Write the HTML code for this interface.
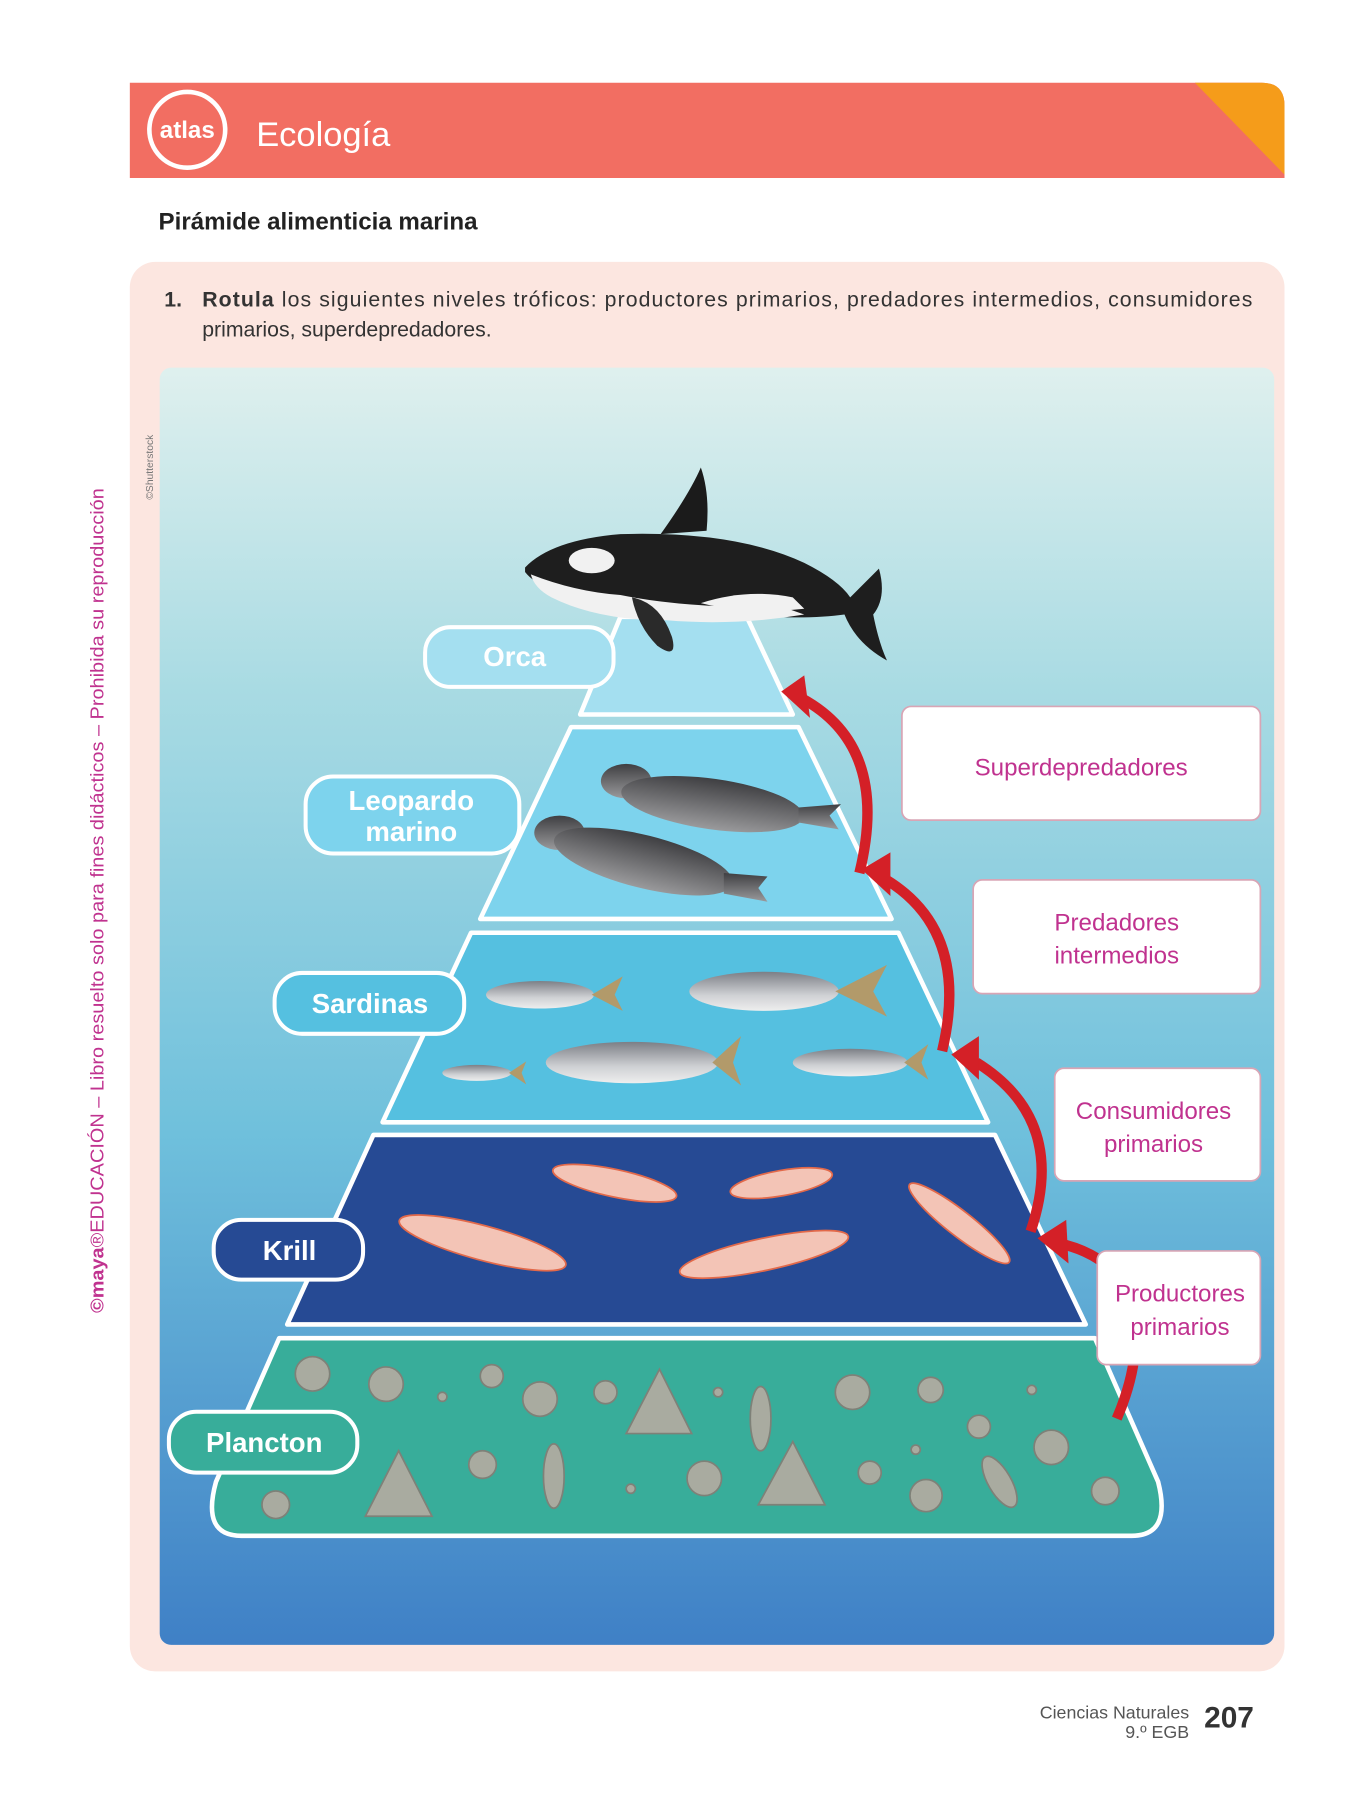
<!DOCTYPE html>
<html><head><meta charset="utf-8"><style>
html,body{margin:0;padding:0;background:#fff}
svg{display:block}
</style></head><body>
<svg width="1350" height="1800" viewBox="0 0 1175 1567" preserveAspectRatio="none" xmlns="http://www.w3.org/2000/svg" font-family="Liberation Sans, sans-serif">
<defs>
<linearGradient id="sea" x1="0" y1="0" x2="0" y2="1">
<stop offset="0" stop-color="#dff0ee"/><stop offset="0.25" stop-color="#a9dbe3"/><stop offset="0.6" stop-color="#6fc0dc"/><stop offset="1" stop-color="#3f80c6"/>
</linearGradient>
<linearGradient id="fish" x1="0" y1="0" x2="0" y2="1"><stop offset="0" stop-color="#7c7f86"/><stop offset="0.6" stop-color="#cfd1d4"/><stop offset="1" stop-color="#eee"/></linearGradient>
<linearGradient id="seal" x1="0" y1="0" x2="0" y2="1"><stop offset="0" stop-color="#3f3f42"/><stop offset="1" stop-color="#9a9a9c"/></linearGradient>
</defs>
<path d="M113 72 H1098 Q1118 72 1118 92 V155 H113 Z" fill="#f26e62"/>
<path d="M1040 72 H1098 Q1118 72 1118 92 V152 Z" fill="#f59c1a"/>
<circle cx="163" cy="113" r="33" fill="none" stroke="#fff" stroke-width="4"/>
<text x="163" y="120" font-size="21" font-weight="bold" fill="#fff" text-anchor="middle">atlas</text>
<text x="223" y="127" font-size="30" fill="#fff">Ecología</text>
<text x="138" y="200" font-size="21" font-weight="bold" fill="#222">Pirámide alimenticia marina</text>
<rect x="113" y="228" width="1005" height="1227" rx="22" fill="#fce6e0"/>
<text x="143" y="267" font-size="18.5" fill="#333" font-weight="bold">1.</text>
<text x="176" y="267" font-size="18.5" fill="#333" textLength="914" lengthAdjust="spacing"><tspan font-weight="bold">Rotula</tspan> los siguientes niveles tróficos: productores primarios, predadores intermedios, consumidores</text>
<text x="176" y="293" font-size="18.5" fill="#333">primarios, superdepredadores.</text>
<rect x="139" y="320" width="970" height="1112" rx="10" fill="url(#sea)"/>
<text transform="translate(133,435) rotate(-90)" font-size="9" fill="#777">©Shutterstock</text>
<text transform="translate(90,1143) rotate(-90)" font-size="16" fill="#c0328f" textLength="718" lengthAdjust="spacingAndGlyphs"><tspan font-weight="bold">©maya</tspan>®EDUCACIÓN – Libro resuelto solo para fines didácticos – Prohibida su reproducción</text>
<g stroke="#fff" stroke-width="4" stroke-linejoin="round">
<polygon points="540,537 650,537 690,622 505,622" fill="#a4dff0"/>
<polygon points="497,633 695,633 776,800 418,800" fill="#7dd3ed"/>
<polygon points="410,812 782,812 860,977 333,977" fill="#55c0e0"/>
<polygon points="325,988 866,988 945,1153 250,1153" fill="#264a94"/>
<path d="M243,1165 H953 L1008,1290 Q1020,1337 985,1337 H210 Q175,1337 188,1290 Z" fill="#38ad9a"/>
</g>
<g>
<path d="M575,465 Q600,430 610,407 Q618,430 615,462 Z" fill="#1b1b1b"/>
<path d="M457,494 Q480,470 540,465 Q640,462 700,490 Q730,505 740,520 L765,495 Q772,520 760,535 Q765,560 772,575 Q745,560 735,535 Q700,540 640,535 L600,535 Q560,540 520,525 Q470,515 457,498 Z" fill="#1e1e1e"/>
<path d="M462,500 Q500,515 540,518 Q600,530 680,528 L700,535 Q640,545 580,540 Q520,540 480,520 Q465,512 462,500 Z" fill="#f1f1f1"/>
<path d="M610,525 Q650,512 690,520 L700,530 Q650,535 610,525 Z" fill="#f1f1f1"/>
<ellipse cx="515" cy="488" rx="20" ry="11" fill="#f1f1f1"/>
<path d="M550,520 Q575,525 585,555 Q590,575 572,562 Q555,545 550,520 Z" fill="#2a2a2a"/>
</g>
<g fill="url(#seal)">
<ellipse cx="545" cy="680" rx="22" ry="15"/>
<ellipse cx="620" cy="700" rx="80" ry="22" transform="rotate(8 620 700)"/>
<path d="M695,703 L732,700 L722,710 L730,722 L695,716 Z"/>
<ellipse cx="487" cy="725" rx="22" ry="15"/>
<ellipse cx="560" cy="750" rx="80" ry="23" transform="rotate(14 560 750)"/>
<path d="M630,760 L668,763 L660,773 L668,785 L630,778 Z"/>
</g>
<g fill="url(#fish)">
<ellipse cx="470" cy="866" rx="47" ry="12"/><path d="M515,866 L542,850 L535,866 L542,880 Z" fill="#b29a6a"/>
<ellipse cx="665" cy="863" rx="65" ry="17"/><path d="M727,863 L772,840 L760,863 L772,885 Z" fill="#b29a6a"/>
<ellipse cx="415" cy="934" rx="30" ry="7"/><path d="M443,934 L458,924 L454,934 L458,944 Z" fill="#b29a6a"/>
<ellipse cx="550" cy="925" rx="75" ry="18"/><path d="M620,925 L645,902 L638,925 L645,945 Z" fill="#b29a6a"/>
<ellipse cx="740" cy="925" rx="50" ry="12"/><path d="M787,925 L808,909 L802,925 L808,940 Z" fill="#b29a6a"/>
</g>
<g fill="#f3c4b6" stroke="#e2694a" stroke-width="1.5">
<ellipse cx="535" cy="1030" rx="55" ry="12" transform="rotate(12 535 1030)"/>
<ellipse cx="680" cy="1030" rx="45" ry="11" transform="rotate(-10 680 1030)"/>
<ellipse cx="835" cy="1065" rx="55" ry="11" transform="rotate(38 835 1065)"/>
<ellipse cx="420" cy="1082" rx="75" ry="15" transform="rotate(15 420 1082)"/>
<ellipse cx="665" cy="1092" rx="75" ry="14" transform="rotate(-12 665 1092)"/>
</g>
<g fill="#a9aba0" stroke="#7e8178" stroke-width="1.5">
<circle cx="272" cy="1196" r="15"/><circle cx="336" cy="1205" r="15"/><circle cx="428" cy="1198" r="10"/><circle cx="470" cy="1218" r="15"/><circle cx="527" cy="1212" r="10"/>
<polygon points="574,1192 602,1248 545,1248"/><ellipse cx="662" cy="1235" rx="9" ry="28"/><circle cx="742" cy="1212" r="15"/><circle cx="810" cy="1210" r="11"/><circle cx="852" cy="1242" r="10"/><circle cx="915" cy="1260" r="15"/>
<polygon points="347,1263 376,1320 318,1320"/><circle cx="420" cy="1275" r="12"/><ellipse cx="482" cy="1285" rx="9" ry="28"/><circle cx="613" cy="1287" r="15"/><polygon points="690,1255 718,1310 660,1310"/><circle cx="757" cy="1282" r="10"/><circle cx="806" cy="1302" r="14"/><ellipse cx="870" cy="1290" rx="10" ry="25" transform="rotate(-30 870 1290)"/><circle cx="962" cy="1298" r="12"/><circle cx="240" cy="1310" r="12"/><circle cx="385" cy="1216" r="4"/><circle cx="549" cy="1296" r="4"/><circle cx="625" cy="1212" r="4"/><circle cx="797" cy="1262" r="4"/><circle cx="898" cy="1210" r="4"/>
</g>
<g stroke="#fff" stroke-width="3.5">
<rect x="370" y="546" width="164" height="52" rx="22" fill="#a4dff0"/>
<rect x="266" y="676" width="186" height="67" rx="24" fill="#7dd3ed"/>
<rect x="239" y="847" width="165" height="53" rx="24" fill="#55c0e0"/>
<rect x="186" y="1062" width="130" height="52" rx="24" fill="#264a94"/>
<rect x="147" y="1229" width="164" height="53" rx="24" fill="#38ad9a"/>
</g>
<g fill="#fff" font-weight="bold" font-size="24" text-anchor="middle">
<text x="448" y="580">Orca</text>
<text x="358" y="705">Leopardo</text><text x="358" y="732">marino</text>
<text x="322" y="882">Sardinas</text>
<text x="252" y="1097">Krill</text>
<text x="230" y="1264">Plancton</text>
</g>
<g fill="none" stroke="#d42027" stroke-width="9">
<path d="M972,1235 Q1000,1170 980,1120 Q960,1090 920,1082"/>
<path d="M897,1072 Q930,975 850,925"/>
<path d="M820,915 Q845,810 770,765"/>
<path d="M748,760 Q775,650 698,608"/>
</g>
<g fill="#d42027">
<polygon points="903,1078 928,1062 930,1100"/>
<polygon points="828,918 852,902 852,940"/>
<polygon points="750,757 775,742 775,780"/>
<polygon points="680,602 700,588 705,625"/>
</g>
<g fill="#fff" stroke="#d8a5b5" stroke-width="1.5">
<rect x="785" y="615" width="312" height="99" rx="8"/>
<rect x="847" y="766" width="250" height="99" rx="8"/>
<rect x="918" y="930" width="179" height="98" rx="8"/>
<rect x="955" y="1089" width="142" height="99" rx="8"/>
</g>
<g fill="#c0328f" font-size="21" text-anchor="middle">
<text x="941" y="675">Superdepredadores</text>
<text x="972" y="810">Predadores</text><text x="972" y="839">intermedios</text>
<text x="1004" y="974">Consumidores</text><text x="1004" y="1003">primarios</text>
<text x="1027" y="1133">Productores</text><text x="1027" y="1162">primarios</text>
</g>
<g fill="#555" font-size="15.5" text-anchor="end">
<text x="1035" y="1496">Ciencias Naturales</text>
<text x="1035" y="1513">9.º EGB</text>
</g>
<text x="1048" y="1504" font-size="26" font-weight="bold" fill="#333">207</text>
</svg>
</body></html>
